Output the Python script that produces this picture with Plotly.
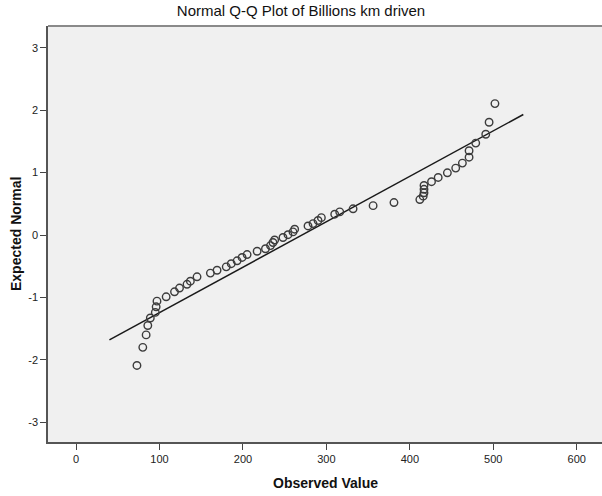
import plotly.graph_objects as go

observed = [73, 80, 84, 86, 89, 95, 96, 97, 108, 118, 124, 133, 137, 145, 161,
            169, 180, 186, 193, 199, 205, 217, 227, 233, 236, 238, 248, 254, 260,
            262, 278, 284, 290, 294, 310, 316, 332, 356, 381, 412, 416, 417, 417,
            417, 426, 434, 445, 455, 463, 471, 471, 479, 491, 495, 502]
# Expected normal values
expected = [-2.09, -1.80, -1.60, -1.45, -1.33, -1.24, -1.15, -1.06, -0.99, -0.91,
            -0.85, -0.79, -0.74, -0.67, -0.61, -0.565, -0.51, -0.46, -0.413, -0.36,
            -0.313, -0.26, -0.22, -0.17, -0.12, -0.08, -0.04, 0.005, 0.05, 0.093,
            0.145, 0.183, 0.232, 0.278, 0.333, 0.37, 0.42, 0.47, 0.52, 0.568,
            0.622, 0.676, 0.732, 0.794, 0.854, 0.922, 0.996, 1.072, 1.152, 1.246,
            1.35, 1.472, 1.614, 1.806, 2.105]
# Reference line end points
line_x = [40, 536]
line_z = [-1.68, 1.93]

x_ticks = [0, 100, 200, 300, 400, 500, 600]
y_ticks = [-3, -2, -1, 0, 1, 2, 3]
y_tick_labels = ["-3", "-2", "-1", "0", "1", "2", "3"]

FONT = "Arial, Liberation Sans, sans-serif"

fig = go.Figure()
fig.add_trace(go.Scatter(
    x=line_x, y=line_z, mode="lines",
    line=dict(color="#1a1a1a", width=1.5), hoverinfo="skip", showlegend=False))
fig.add_trace(go.Scatter(
    x=observed, y=expected, mode="markers",
    marker=dict(symbol="circle-open", size=7.5, color="#3c3c3c",
                line=dict(color="#3c3c3c", width=1.4)),
    showlegend=False))

fig.update_layout(
    width=602, height=496,
    margin=dict(l=48, r=0, t=26, b=54, autoexpand=False),
    paper_bgcolor="white", plot_bgcolor="#f0f0f0",
    font=dict(family=FONT, color="#333333"),
    title=dict(text="Normal Q-Q Plot of Billions km driven",
               x=0.5, xref="container", xanchor="center",
               y=1 - 11 / 496, yref="container", yanchor="middle",
               font=dict(size=15, color="#111111", family=FONT)),
    xaxis=dict(range=[-33.6, 630.3], tickvals=x_ticks, showgrid=False, zeroline=False,
               showline=True, linecolor="#555555", linewidth=1.5,
               ticks="outside", ticklen=6, tickcolor="#444444", tickwidth=1.3,
               tickfont=dict(size=11, color="#222222")),
    yaxis=dict(range=[-3.316, 3.348], tickvals=y_ticks, ticktext=y_tick_labels,
               showgrid=False, zeroline=False,
               showline=True, linecolor="#555555", linewidth=1.5,
               ticks="outside", ticklen=6, tickcolor="#444444", tickwidth=1.3,
               tickfont=dict(size=11, color="#222222")),
    shapes=[dict(type="line", xref="paper", yref="paper", x0=0, x1=1, y0=1, y1=1,
                 line=dict(color="#8a8a8a", width=2))],
    annotations=[
        dict(text="<b>Observed Value</b>", xref="paper", yref="paper",
             x=0.5, y=(496 - 483 - 54) / 416, xanchor="center", yanchor="middle",
             showarrow=False, font=dict(size=14, color="#111111", family=FONT)),
        dict(text="<b>Expected Normal</b>", xref="paper", yref="paper",
             x=(16 - 48) / 554, y=0.5, xanchor="center", yanchor="middle",
             textangle=-90, showarrow=False,
             font=dict(size=14, color="#111111", family=FONT)),
    ],
)

fig.write_html("out.html", config={"displayModeBar": False},
               post_script="document.body.style.margin='0';")
